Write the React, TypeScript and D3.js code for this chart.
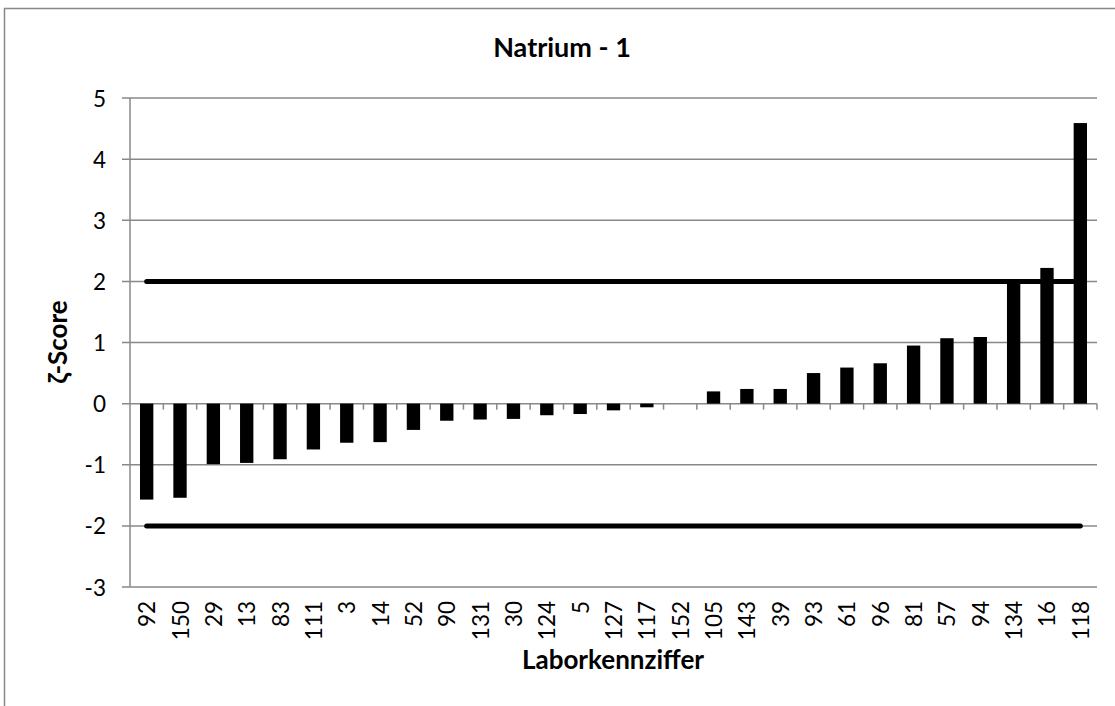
import { useMemo } from "react";
import * as d3 from "d3";

const WIDTH = 1115;
const HEIGHT = 706;
const MARGIN = { top: 98, right: 18, bottom: 119, left: 130 };

const labs = ["92", "150", "29", "13", "83", "111", "3", "14", "52", "90", "131", "30", "124", "5", "127", "117", "152", "105", "143", "39", "93", "61", "96", "81", "57", "94", "134", "16", "118"];
const scores = [-1.57, -1.54, -0.99, -0.97, -0.91, -0.75, -0.64, -0.63, -0.43, -0.28, -0.26, -0.25, -0.19, -0.17, -0.11, -0.06, 0, 0.2, 0.24, 0.24, 0.5, 0.59, 0.66, 0.95, 1.07, 1.09, 1.99, 2.22, 4.59];
const yTicks = [5, 4, 3, 2, 1, 0, -1, -2, -3];
const limits = [2, -2];

const FONT = "Lato, 'Open Sans', sans-serif";
const GRID = "#888888";

export default function App() {
  const boundsWidth = WIDTH - MARGIN.left - MARGIN.right;
  const boundsHeight = HEIGHT - MARGIN.top - MARGIN.bottom;

  const xScale = useMemo(
    () => d3.scaleBand().domain(labs).range([0, boundsWidth]).paddingInner(0.6).paddingOuter(0.3),
    [boundsWidth]
  );
  const bandScale = useMemo(() => d3.scaleBand().domain(labs).range([0, boundsWidth]), [boundsWidth]);
  const yScale = useMemo(() => d3.scaleLinear().domain([-3, 5]).range([boundsHeight, 0]), [boundsHeight]);

  const limitLine = d3
    .line<[number, number]>()
    .x((d) => d[0])
    .y((d) => d[1]);

  const firstC = (bandScale(labs[0]) ?? 0) + bandScale.bandwidth() / 2;
  const lastC = (bandScale(labs[labs.length - 1]) ?? 0) + bandScale.bandwidth() / 2;

  return (
    <svg width={WIDTH} height={HEIGHT} style={{ position: "absolute", left: 0, top: 0, background: "#fff" }}>
      <rect x={4.5} y={8.5} width={1200} height={800} fill="#fff" stroke={GRID} strokeWidth={1.5} />
      <text x={562} y={57} textAnchor="middle" fontFamily={FONT} fontWeight="bold" fontSize={27}>
        Natrium - 1
      </text>
      <g transform={`translate(${MARGIN.left},${MARGIN.top})`}>
        {yTicks.map((t) => (
          <g key={t}>
            <line x1={-8} x2={boundsWidth} y1={yScale(t)} y2={yScale(t)} stroke={GRID} strokeWidth={1.5} />
            <text
              x={-24}
              y={yScale(t)}
              textAnchor="end"
              dominantBaseline="central"
              fontFamily={FONT}
              fontSize={22.5}
              fill="#000"
            >
              {t}
            </text>
          </g>
        ))}
        <line x1={0} x2={0} y1={0} y2={boundsHeight} stroke={GRID} strokeWidth={1.5} />
        {/* category ticks on the zero line */}
        {labs.map((l) => (
          <line
            key={"t" + l}
            x1={(bandScale(l) ?? 0) + bandScale.bandwidth()}
            x2={(bandScale(l) ?? 0) + bandScale.bandwidth()}
            y1={yScale(0)}
            y2={yScale(0) + 6}
            stroke={GRID}
            strokeWidth={1.5}
          />
        ))}
        {labs.map((l, i) => {
          const v = scores[i];
          return (
            <rect
              key={l}
              x={xScale(l)}
              width={xScale.bandwidth()}
              y={yScale(Math.max(v, 0))}
              height={Math.abs(yScale(v) - yScale(0))}
              fill="#000"
            />
          );
        })}
        {limits.map((v) => (
          <path
            key={v}
            d={limitLine([
              [firstC, yScale(v)],
              [lastC, yScale(v)],
            ]) ?? ""}
            stroke="#000"
            strokeWidth={5}
            strokeLinecap="round"
            fill="none"
          />
        ))}
        {labs.map((l) => {
          const cx = (bandScale(l) ?? 0) + bandScale.bandwidth() / 2;
          return (
            <text
              key={"l" + l}
              transform={`translate(${cx},${boundsHeight + 14}) rotate(-90)`}
              textAnchor="end"
              dominantBaseline="central"
              fontFamily={FONT}
              fontSize={22.5}
              fill="#000"
            >
              {l}
            </text>
          );
        })}
      </g>
      <text x={613} y={669} textAnchor="middle" fontFamily={FONT} fontWeight="bold" fontSize={26}>
        Laborkennziffer
      </text>
      <text
        transform={`translate(67,342) rotate(-90)`}
        textAnchor="middle"
        fontFamily={FONT}
        fontWeight="bold"
        fontSize={26}
      >
        ζ-Score
      </text>
    </svg>
  );
}
